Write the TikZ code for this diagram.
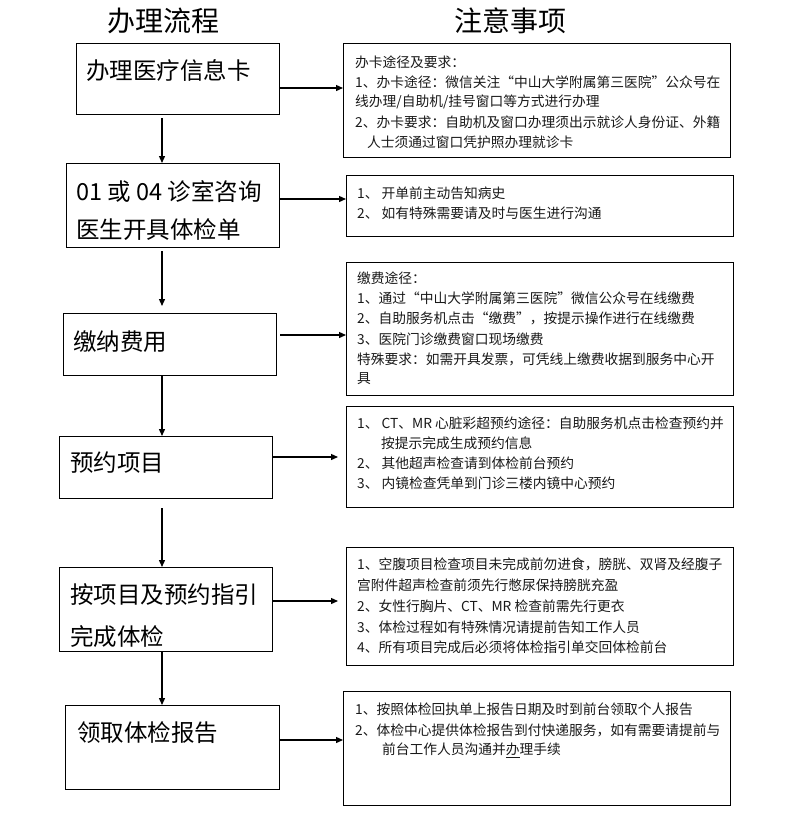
\documentclass[tikz,border=0pt]{standalone}
\usepackage{fontspec}
\setmainfont{Noto Sans CJK SC}
\usetikzlibrary{arrows.meta}
\tikzset{
  box/.style={draw, line width=1.3pt, inner sep=0pt, anchor=north west},
  lt/.style={anchor=west, inner sep=0pt, font=\fontsize{23.5pt}{28pt}\selectfont},
  rt/.style={anchor=west, inner sep=0pt, text=black!90, font=\fontsize{13.75pt}{16pt}\selectfont},
  ttl/.style={inner sep=0pt, font=\fontsize{28pt}{32pt}\selectfont},
  arr/.style={line width=1.3pt, -{Triangle[length=7pt,width=6pt]}}
}
\begin{document}
\begin{tikzpicture}[x=1pt,y=-1pt]
\fill[white] (0,0) rectangle (787,822);
\useasboundingbox (0,0) rectangle (787,822);

% titles
\node[ttl] (title1) at (163,21) {办理流程};
\node[ttl] (title2) at (510,21) {注意事项};

% left process boxes
\node[box, minimum width=203pt, minimum height=71pt] (b1) at (76,43) {};
\node[box, minimum width=213pt, minimum height=84pt] (b2) at (66,163) {};
\node[box, minimum width=213pt, minimum height=62pt] (b3) at (63,313) {};
\node[box, minimum width=213pt, minimum height=62pt] (b4) at (59,436) {};
\node[box, minimum width=213pt, minimum height=84pt] (b5) at (59,567) {};
\node[box, minimum width=214pt, minimum height=84pt] (b6) at (65,705) {};

\node[lt] (t1) at (86,70) {办理医疗信息卡};
\node[lt] (t2a) at (76,192) {01 或 04 诊室咨询};
\node[lt] (t2b) at (76,230) {医生开具体检单};
\node[lt] (t3) at (73,342) {缴纳费用};
\node[lt] (t4) at (70,463) {预约项目};
\node[lt] (t5a) at (70,595) {按项目及预约指引};
\node[lt] (t5b) at (70,637) {完成体检};
\node[lt] (t6) at (77,733) {领取体检报告};

% right note boxes
\node[box, minimum width=387pt, minimum height=114pt] (r1) at (343,43) {};
\node[box, minimum width=387pt, minimum height=61pt] (r2) at (346,175) {};
\node[box, minimum width=387pt, minimum height=133pt] (r3) at (346,262) {};
\node[box, minimum width=387pt, minimum height=101pt] (r4) at (346,406) {};
\node[box, minimum width=387pt, minimum height=118pt] (r5) at (346,547) {};
\node[box, minimum width=387pt, minimum height=114pt] (r6) at (343,691) {};

% notes 1
\node[rt] (n1a) at (355,62) {办卡途径及要求：};
\node[rt] (n1b) at (355,82) {1、办卡途径：微信关注“中山大学附属第三医院”公众号在};
\node[rt] (n1c) at (355,102) {线办理/自助机/挂号窗口等方式进行办理};
\node[rt] (n1d) at (355,122) {2、办卡要求：自助机及窗口办理须出示就诊人身份证、外籍};
\node[rt] (n1e) at (367,142) {人士须通过窗口凭护照办理就诊卡};
% notes 2
\node[rt] (n2a) at (357,193) {1、 开单前主动告知病史};
\node[rt] (n2b) at (357,213) {2、 如有特殊需要请及时与医生进行沟通};
% notes 3
\node[rt] (n3a) at (357,278) {缴费途径：};
\node[rt] (n3b) at (357,298) {1、通过“中山大学附属第三医院”微信公众号在线缴费};
\node[rt] (n3c) at (357,318.5) {2、自助服务机点击“缴费”，按提示操作进行在线缴费};
\node[rt] (n3d) at (357,339) {3、医院门诊缴费窗口现场缴费};
\node[rt] (n3e) at (357,359) {特殊要求：如需开具发票，可凭线上缴费收据到服务中心开};
\node[rt] (n3f) at (357,379) {具};
% notes 4
\node[rt] (n4a) at (357,423) {1、 CT、MR 心脏彩超预约途径：自助服务机点击检查预约并};
\node[rt] (n4b) at (381,443) {按提示完成生成预约信息};
\node[rt] (n4c) at (357,463) {2、 其他超声检查请到体检前台预约};
\node[rt] (n4d) at (357,483) {3、 内镜检查凭单到门诊三楼内镜中心预约};
% notes 5
\node[rt] (n5a) at (357,564) {1、空腹项目检查项目未完成前勿进食，膀胱、双肾及经腹子};
\node[rt] (n5b) at (357,585) {宫附件超声检查前须先行憋尿保持膀胱充盈};
\node[rt] (n5c) at (357,606) {2、女性行胸片、CT、MR 检查前需先行更衣};
\node[rt] (n5d) at (357,627) {3、体检过程如有特殊情况请提前告知工作人员};
\node[rt] (n5e) at (357,647) {4、所有项目完成后必须将体检指引单交回体检前台};
% notes 6
\node[rt] (n6a) at (355,709) {1、按照体检回执单上报告日期及时到前台领取个人报告};
\node[rt] (n6b) at (355,730) {2、体检中心提供体检报告到付快递服务，如有需要请提前与};
\node[rt] (n6c) at (382,750) {前台工作人员沟通并\underline{办}理手续};

% helper coordinates
\coordinate (sp) at (162,0);
\coordinate (y1) at (0,88);
\coordinate (y2) at (0,199);
\coordinate (y3) at (0,335);
\coordinate (y4) at (0,457);
\coordinate (y5) at (0,601);
\coordinate (y6) at (0,740);

% vertical arrows
\draw[arr, shorten <=3pt] (b1.south -| sp) -- (b2.north -| sp);
\draw[arr, shorten <=3pt, shorten >=7pt] (b2.south -| sp) -- (b3.north -| sp);
\draw[arr] (b3.south -| sp) -- (b4.north -| sp);
\draw[arr, shorten <=9pt] (b4.south -| sp) -- (b5.north -| sp);
\draw[arr] (b5.south -| sp) -- (b6.north -| sp);

% horizontal arrows
\draw[arr] (b1.east |- y1) -- (r1.west |- y1);
\draw[arr] (b2.east |- y2) -- (r2.west |- y2);
\draw[arr, shorten <=3pt] (b3.east |- y3) -- (r3.west |- y3);
\draw[arr, shorten >=8pt] (b4.east |- y4) -- (r4.west |- y4);
\draw[arr, shorten >=8pt] (b5.east |- y5) -- (r5.west |- y5);
\draw[arr] (b6.east |- y6) -- (r6.west |- y6);
\end{tikzpicture}
\end{document}
